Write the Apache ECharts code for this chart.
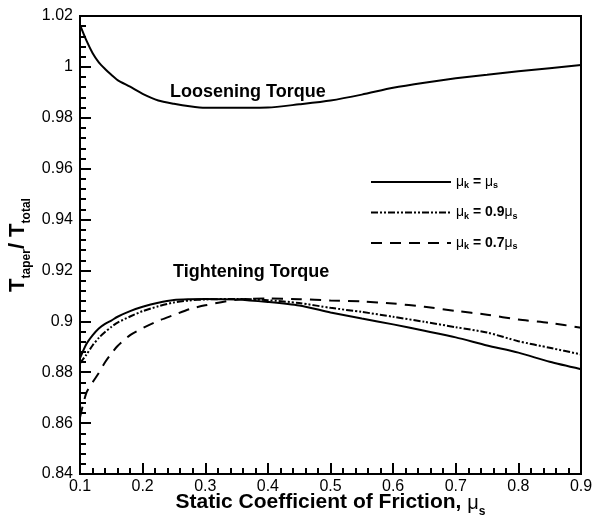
<!DOCTYPE html>
<html><head><meta charset="utf-8">
<script src="https://cdn.jsdelivr.net/npm/echarts@6/dist/echarts.min.js"></script>
<style>html,body{margin:0;padding:0;background:#fff}#c{width:595px;height:525px}</style>
</head><body><div id="c"></div>
<script>
const xFriction = [0.1,0.11,0.12,0.13,0.14,0.15,0.16,0.18,0.2,0.225,0.25,0.275,0.3,0.35,0.4,0.45,0.5,0.55,0.6,0.65,0.7,0.75,0.8,0.85,0.9];
const loosening = [1.0165,1.0105,1.0055,1.0018,0.9992,0.9969,0.9948,0.9922,0.9894,0.9868,0.9855,0.9845,0.9839,0.9839,0.9840,0.9853,0.9868,0.9891,0.9918,0.9938,0.9955,0.9969,0.9983,0.9995,1.0007];
const tightMuEq = [0.8855,0.891,0.8945,0.8972,0.899,0.9003,0.9018,0.904,0.9057,0.9073,0.9084,0.9087,0.9088,0.9086,0.9076,0.9062,0.9035,0.9011,0.8988,0.8963,0.8937,0.8905,0.8877,0.8841,0.8812];
const tightMu09 = [0.8835,0.8868,0.8905,0.8935,0.8958,0.8978,0.8995,0.9019,0.904,0.9059,0.9074,0.9082,0.9086,0.9088,0.9083,0.9072,0.9053,0.9037,0.9018,0.8998,0.8977,0.8956,0.8922,0.8896,0.887];
const tightMu07 = [0.8622,0.8718,0.876,0.8797,0.8839,0.8873,0.8903,0.8946,0.8973,0.9002,0.9025,0.9048,0.9063,0.9085,0.909,0.9087,0.9082,0.9078,0.907,0.9057,0.9041,0.9026,0.9007,0.8994,0.8975];
const seriesNames = ['muEq','mu09','mu07'];
const legendLabels = {
  muEq: '{mu|μ}{sub|k}{b| = }{mu|μ}{sub|s}',
  mu09: '{mu|μ}{sub|k}{b| = 0.9}{mu|μ}{sub|s}',
  mu07: '{mu|μ}{sub|k}{b| = 0.7}{mu|μ}{sub|s}'
};
const xTicks = {min:0.1, max:0.9, step:0.1};
const yTicks = {min:0.84, max:1.02, step:0.02};

const FONT = '"Liberation Sans", Arial, sans-serif';
const pair = ys => xFriction.map((x,i)=>[x, ys[i]]);
const chart = echarts.init(document.getElementById('c'), null, {renderer:'canvas'});
const lineBase = {type:'line', symbol:'none', smooth:0.25, silent:true, animation:false};
chart.setOption({
  animation:false,
  backgroundColor:'#fff',
  grid:{left:80, right:14, top:16, bottom:51, containLabel:false, outerBoundsMode:'none', show:true, borderColor:'#000', borderWidth:2, backgroundColor:'transparent'},
  xAxis:{type:'value', min:xTicks.min, max:xTicks.max, interval:xTicks.step,
    axisLine:{lineStyle:{color:'#000', width:2}},
    axisTick:{inside:true, length:11, lineStyle:{color:'#000', width:2}},
    minorTick:{show:true, splitNumber:5, length:6, lineStyle:{color:'#000', width:2}},
    splitLine:{show:false},
    axisLabel:{color:'#000', fontFamily:FONT, fontSize:16, margin:5},
    name:'{t|Static Coefficient of Friction, }{mu|μ}{sub|s}', nameLocation:'middle', nameGap:15, nameMoveOverlap:false,
    nameTextStyle:{rich:{
      t:{fontFamily:FONT, fontSize:21, fontWeight:'bold', color:'#000', lineHeight:24, verticalAlign:'bottom'},
      mu:{fontFamily:FONT, fontSize:20, color:'#000', lineHeight:24, verticalAlign:'bottom'},
      sub:{fontFamily:FONT, fontSize:12, fontWeight:'bold', color:'#000', lineHeight:24, verticalAlign:'bottom', padding:[0,0,-5,0]}
    }}
  },
  yAxis:{type:'value', min:yTicks.min, max:yTicks.max, interval:yTicks.step,
    axisLine:{lineStyle:{color:'#000', width:2}},
    axisTick:{inside:true, length:11, lineStyle:{color:'#000', width:2}},
    minorTick:{show:true, splitNumber:5, length:6, lineStyle:{color:'#000', width:2}},
    splitLine:{show:false},
    axisLabel:{color:'#000', fontFamily:FONT, fontSize:16, margin:7},
    name:'{T|T}{sub|taper}{T|/ T}{sub|total}', nameLocation:'middle', nameGap:51, nameRotate:90, nameMoveOverlap:false,
    nameTextStyle:{rich:{
      T:{fontFamily:FONT, fontSize:22, fontWeight:'bold', color:'#000', lineHeight:26, verticalAlign:'bottom'},
      sub:{fontFamily:FONT, fontSize:12, fontWeight:'bold', color:'#000', lineHeight:26, verticalAlign:'bottom', padding:[0,0,-4,0]}
    }}
  },
  legend:{show:true, left:365, top:170, orient:'vertical', itemWidth:80, itemHeight:14, itemGap:15,
    data:seriesNames,
    itemStyle:{opacity:0},
    formatter: n => legendLabels[n],
    textStyle:{rich:{
      mu:{fontFamily:FONT, fontSize:14, color:'#000'},
      sub:{fontFamily:FONT, fontSize:9, fontWeight:'bold', color:'#000', padding:[8,0,0,0]},
      b:{fontFamily:FONT, fontSize:14, fontWeight:'bold', color:'#000'}
    }},
    selectedMode:false
  },
  graphic:[
    {type:'text', left:170, top:83, style:{text:'Loosening Torque', font:'bold 18px '+FONT, fill:'#000'}},
    {type:'text', left:173, top:263, style:{text:'Tightening Torque', font:'bold 18px '+FONT, fill:'#000'}}
  ],
  series:[
    Object.assign({}, lineBase, {name:'loosen', data:pair(loosening), lineStyle:{color:'#000', width:2}}),
    Object.assign({}, lineBase, {name:'muEq', data:pair(tightMuEq), lineStyle:{color:'#000', width:2}, itemStyle:{color:'#000'}}),
    Object.assign({}, lineBase, {name:'mu09', data:pair(tightMu09), lineStyle:{color:'#000', width:2, type:[7,2,2,2,2,2]}, itemStyle:{color:'#000'}}),
    Object.assign({}, lineBase, {name:'mu07', data:pair(tightMu07), lineStyle:{color:'#000', width:2, type:[11,8]}, itemStyle:{color:'#000'}})
  ]
});
</script></body></html>
